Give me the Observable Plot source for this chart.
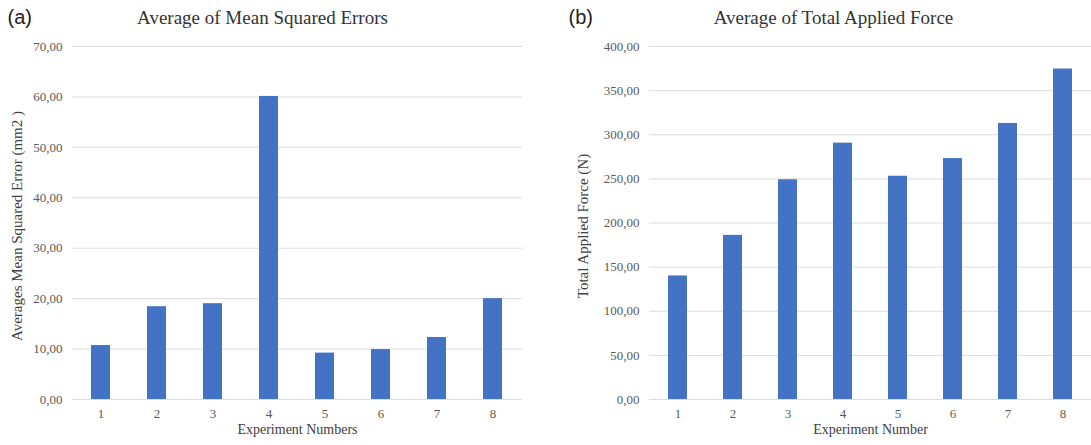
<!DOCTYPE html>
<html>
<head>
<meta charset="utf-8">
<script src="https://cdn.jsdelivr.net/npm/d3@7"></script>
<script src="https://cdn.jsdelivr.net/npm/@observablehq/plot@0.6"></script>
<style>
  html, body { margin: 0; padding: 0; background: #fff; }
  #wrap { position: relative; width: 1091px; height: 445px; overflow: hidden; }
  #left { position: absolute; left: 0; top: 0; width: 545px; height: 445px; }
  #right { position: absolute; left: 545px; top: 0; width: 546px; height: 445px; }
  svg { overflow: visible; }
  #wrap g[aria-label$="tick label"], #wrap g[aria-label$="tick label"] text {
    font-family: "Liberation Serif", serif !important;
    font-variant: normal !important;
  }
</style>
</head>
<body>
<div id="wrap"><div id="left"></div><div id="right"></div></div>
<script>
const experiments = ["1", "2", "3", "4", "5", "6", "7", "8"];
const mseValues = [10.7, 18.4, 19.0, 60.1, 9.2, 9.9, 12.3, 20.0];
const forceValues = [140, 186, 249, 290.5, 253, 273, 312.8, 374.5];
const mseTicks = [0, 10, 20, 30, 40, 50, 60, 70];
const forceTicks = [0, 50, 100, 150, 200, 250, 300, 350, 400];

const barColor = "#4472c4";
const gridColor = "#dcdcdc";
const serif = "Liberation Serif";
const fmt = d => d.toFixed(2).replace(".", ",");

function panel({values, ticks, width, marginLeft, marginRight, letter, title, titleDx, letterDx, yLabel, yLabelDx, xLabel}) {
  const data = experiments.map((e, i) => ({exp: e, value: values[i]}));
  return Plot.plot({
    width, height: 445,
    marginLeft, marginRight, marginTop: 46, marginBottom: 46,
    style: {fontFamily: serif, color: "#595959", background: "transparent"},
    x: {domain: experiments, paddingInner: 0.66, paddingOuter: 0.33},
    y: {domain: [ticks[0], ticks[ticks.length - 1]]},
    marks: [
      Plot.gridY(ticks, {stroke: gridColor, strokeOpacity: 1, strokeWidth: 1}),
      Plot.barY(data, {x: "exp", y: "value", fill: barColor}),
      Plot.axisY(ticks, {tickSize: 0, tickPadding: 10, fontSize: 13, fontFamily: serif, tickFormat: fmt, label: null}),
      Plot.axisX({tickSize: 0, tickPadding: 9, fontSize: 13, fontFamily: serif, label: null}),
      Plot.text([title], {frameAnchor: "top", textAnchor: "middle", lineAnchor: "middle", dx: titleDx, dy: -29, fontSize: 19, fontFamily: serif, fill: "#333"}),
      Plot.text([letter], {frameAnchor: "top-left", textAnchor: "start", lineAnchor: "middle", dx: letterDx, dy: -29, fontSize: 20, fontFamily: "Liberation Sans", fill: "#222"}),
      Plot.text([yLabel], {frameAnchor: "left", textAnchor: "middle", lineAnchor: "middle", rotate: -90, dx: yLabelDx, dy: 3, fontSize: 15, fontFamily: serif, fill: "#404040"}),
      Plot.text([xLabel], {frameAnchor: "bottom", textAnchor: "middle", lineAnchor: "middle", dy: 30, fontSize: 14, fontFamily: serif, fill: "#404040"})
    ]
  });
}

document.getElementById("left").appendChild(panel({
  values: mseValues, ticks: mseTicks, width: 545, marginLeft: 72, marginRight: 23,
  letter: "(a)", title: "Average of Mean Squared Errors", titleDx: -35, letterDx: -65,
  yLabel: "Averages Mean Squared Error (mm2 )", yLabelDx: -55, xLabel: "Experiment Numbers"
}));

document.getElementById("right").appendChild(panel({
  values: forceValues, ticks: forceTicks, width: 546, marginLeft: 104, marginRight: 0,
  letter: "(b)", title: "Average of Total Applied Force", titleDx: -37, letterDx: -81,
  yLabel: "Total Applied Force (N)", yLabelDx: -66, xLabel: "Experiment Number"
}));
</script>
</body>
</html>
